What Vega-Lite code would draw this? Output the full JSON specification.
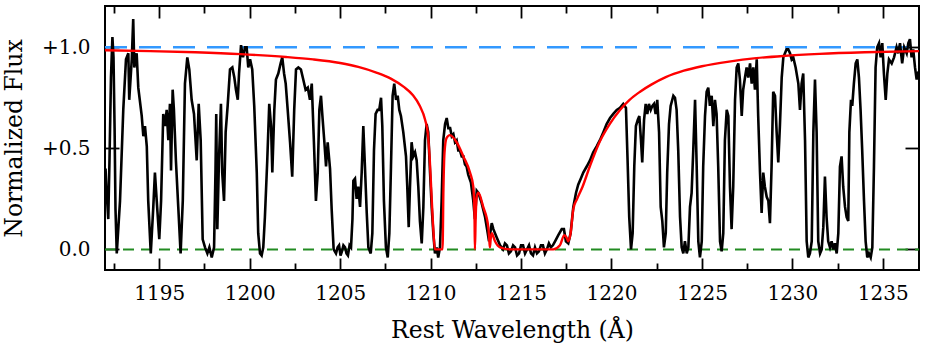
{
  "$schema": "https://vega.github.io/schema/vega-lite/v6.json",
  "width": 814,
  "height": 264,
  "autosize": {"type": "none"},
  "padding": {"left": 105, "top": 6, "right": 7, "bottom": 83},
  "background": "white",
  "config": {
    "view": {"stroke": "black", "strokeWidth": 2},
    "font": "DejaVu Serif",
    "axis": {
      "grid": false, "domain": false,
      "labelFont": "DejaVu Serif", "titleFont": "DejaVu Serif",
      "labelColor": "black", "titleColor": "black", "tickColor": "black",
      "tickWidth": 1.8, "labelFontSize": 20, "titleFontSize": 23.5,
      "titleFontWeight": "normal", "zindex": 1
    }
  },
  "datasets": {
    "continuum": [{"level": 1}],
    "zero": [{"level": 0}],
    "spectrum": [
      {"wl": 1192.03, "flux": 0.40}, {"wl": 1192.08, "flux": 0.30}, {"wl": 1192.18, "flux": 0.15}, {"wl": 1192.25, "flux": 0.45},
      {"wl": 1192.33, "flux": 0.85}, {"wl": 1192.41, "flux": 1.05}, {"wl": 1192.47, "flux": 0.95}, {"wl": 1192.53, "flux": 0.60},
      {"wl": 1192.58, "flux": 0.20}, {"wl": 1192.65, "flux": -0.02}, {"wl": 1192.83, "flux": 0.24}, {"wl": 1193.01, "flux": 0.69},
      {"wl": 1193.16, "flux": 0.94}, {"wl": 1193.29, "flux": 0.97}, {"wl": 1193.34, "flux": 0.74}, {"wl": 1193.48, "flux": 0.94},
      {"wl": 1193.56, "flux": 1.14}, {"wl": 1193.62, "flux": 0.90}, {"wl": 1193.75, "flux": 0.97}, {"wl": 1193.84, "flux": 0.80},
      {"wl": 1194.03, "flux": 0.66}, {"wl": 1194.12, "flux": 0.56}, {"wl": 1194.21, "flux": 0.61}, {"wl": 1194.31, "flux": 0.51},
      {"wl": 1194.39, "flux": 0.24}, {"wl": 1194.53, "flux": -0.02}, {"wl": 1194.67, "flux": 0.21}, {"wl": 1194.76, "flux": 0.38},
      {"wl": 1194.86, "flux": 0.24}, {"wl": 1195.00, "flux": 0.05}, {"wl": 1195.10, "flux": 0.24}, {"wl": 1195.22, "flux": 0.67},
      {"wl": 1195.32, "flux": 0.61}, {"wl": 1195.41, "flux": 0.69}, {"wl": 1195.50, "flux": 0.54}, {"wl": 1195.59, "flux": 0.72},
      {"wl": 1195.65, "flux": 0.39}, {"wl": 1195.74, "flux": 0.79}, {"wl": 1195.81, "flux": 0.69}, {"wl": 1195.92, "flux": 0.44},
      {"wl": 1196.05, "flux": 0.21}, {"wl": 1196.18, "flux": -0.02}, {"wl": 1196.30, "flux": 0.24}, {"wl": 1196.42, "flux": 0.82},
      {"wl": 1196.55, "flux": 0.95}, {"wl": 1196.66, "flux": 0.89}, {"wl": 1196.79, "flux": 0.74}, {"wl": 1196.92, "flux": 0.67},
      {"wl": 1197.07, "flux": 0.44}, {"wl": 1197.18, "flux": 0.72}, {"wl": 1197.29, "flux": 0.54}, {"wl": 1197.40, "flux": 0.05},
      {"wl": 1197.53, "flux": 0.01}, {"wl": 1197.66, "flux": -0.02}, {"wl": 1197.77, "flux": 0.01}, {"wl": 1197.90, "flux": -0.04},
      {"wl": 1198.03, "flux": 0.01}, {"wl": 1198.11, "flux": 0.40}, {"wl": 1198.15, "flux": 0.67}, {"wl": 1198.21, "flux": 0.10},
      {"wl": 1198.30, "flux": 0.44}, {"wl": 1198.41, "flux": 0.72}, {"wl": 1198.48, "flux": 0.38}, {"wl": 1198.58, "flux": 0.24},
      {"wl": 1198.67, "flux": 0.58}, {"wl": 1198.78, "flux": 0.71}, {"wl": 1198.91, "flux": 0.89}, {"wl": 1199.04, "flux": 0.90},
      {"wl": 1199.15, "flux": 0.85}, {"wl": 1199.24, "flux": 0.79}, {"wl": 1199.34, "flux": 0.74}, {"wl": 1199.41, "flux": 0.87},
      {"wl": 1199.52, "flux": 1.01}, {"wl": 1199.63, "flux": 0.95}, {"wl": 1199.74, "flux": 1.00}, {"wl": 1199.83, "flux": 1.00},
      {"wl": 1199.92, "flux": 0.90}, {"wl": 1200.02, "flux": 0.94}, {"wl": 1200.14, "flux": 0.89}, {"wl": 1200.25, "flux": 0.71},
      {"wl": 1200.39, "flux": 0.38}, {"wl": 1200.47, "flux": 0.08}, {"wl": 1200.57, "flux": -0.02}, {"wl": 1200.66, "flux": -0.03},
      {"wl": 1200.75, "flux": 0.01}, {"wl": 1200.84, "flux": 0.16}, {"wl": 1200.97, "flux": 0.44}, {"wl": 1201.08, "flux": 0.72},
      {"wl": 1201.18, "flux": 0.61}, {"wl": 1201.25, "flux": 0.38}, {"wl": 1201.36, "flux": 0.69}, {"wl": 1201.45, "flux": 0.84},
      {"wl": 1201.58, "flux": 0.87}, {"wl": 1201.71, "flux": 0.92}, {"wl": 1201.80, "flux": 0.95}, {"wl": 1201.90, "flux": 0.87},
      {"wl": 1201.99, "flux": 0.82}, {"wl": 1202.10, "flux": 0.69}, {"wl": 1202.23, "flux": 0.53}, {"wl": 1202.35, "flux": 0.36},
      {"wl": 1202.46, "flux": 0.69}, {"wl": 1202.56, "flux": 0.89}, {"wl": 1202.69, "flux": 0.90}, {"wl": 1202.83, "flux": 0.89},
      {"wl": 1202.96, "flux": 0.84}, {"wl": 1203.09, "flux": 0.79}, {"wl": 1203.21, "flux": 0.80}, {"wl": 1203.33, "flux": 0.74},
      {"wl": 1203.43, "flux": 0.82}, {"wl": 1203.55, "flux": 0.53}, {"wl": 1203.66, "flux": 0.24}, {"wl": 1203.76, "flux": 0.38},
      {"wl": 1203.85, "flux": 0.69}, {"wl": 1203.94, "flux": 0.76}, {"wl": 1204.01, "flux": 0.67}, {"wl": 1204.12, "flux": 0.54},
      {"wl": 1204.22, "flux": 0.41}, {"wl": 1204.31, "flux": 0.53}, {"wl": 1204.44, "flux": 0.40}, {"wl": 1204.53, "flux": 0.20},
      {"wl": 1204.64, "flux": 0.00}, {"wl": 1204.77, "flux": -0.02}, {"wl": 1204.86, "flux": 0.01}, {"wl": 1204.94, "flux": 0.02},
      {"wl": 1205.02, "flux": -0.03}, {"wl": 1205.10, "flux": -0.01}, {"wl": 1205.18, "flux": 0.02}, {"wl": 1205.27, "flux": 0.01},
      {"wl": 1205.35, "flux": -0.02}, {"wl": 1205.43, "flux": -0.03}, {"wl": 1205.52, "flux": 0.02}, {"wl": 1205.60, "flux": 0.01},
      {"wl": 1205.68, "flux": 0.15},
      {"wl": 1205.73, "flux": 0.34}, {"wl": 1205.82, "flux": 0.35}, {"wl": 1205.91, "flux": 0.25}, {"wl": 1206.00, "flux": 0.31},
      {"wl": 1206.10, "flux": 0.21}, {"wl": 1206.19, "flux": 0.38}, {"wl": 1206.28, "flux": 0.61}, {"wl": 1206.37, "flux": 0.41},
      {"wl": 1206.47, "flux": 0.18}, {"wl": 1206.56, "flux": 0.01}, {"wl": 1206.69, "flux": -0.02}, {"wl": 1206.78, "flux": 0.08},
      {"wl": 1206.87, "flux": 0.49}, {"wl": 1206.96, "flux": 0.67}, {"wl": 1207.07, "flux": 0.69}, {"wl": 1207.16, "flux": 0.69},
      {"wl": 1207.26, "flux": 0.75}, {"wl": 1207.33, "flux": 0.61}, {"wl": 1207.42, "flux": 0.24}, {"wl": 1207.53, "flux": 0.01},
      {"wl": 1207.63, "flux": -0.04}, {"wl": 1207.72, "flux": 0.08}, {"wl": 1207.81, "flux": 0.41}, {"wl": 1207.90, "flux": 0.76},
      {"wl": 1207.99, "flux": 0.82}, {"wl": 1208.09, "flux": 0.74}, {"wl": 1208.18, "flux": 0.76}, {"wl": 1208.27, "flux": 0.69},
      {"wl": 1208.36, "flux": 0.66}, {"wl": 1208.49, "flux": 0.58}, {"wl": 1208.64, "flux": 0.46}, {"wl": 1208.71, "flux": 0.31},
      {"wl": 1208.79, "flux": 0.11}, {"wl": 1208.86, "flux": 0.31}, {"wl": 1208.95, "flux": 0.53}, {"wl": 1209.04, "flux": 0.46},
      {"wl": 1209.14, "flux": 0.48}, {"wl": 1209.23, "flux": 0.44}, {"wl": 1209.32, "flux": 0.31}, {"wl": 1209.41, "flux": 0.14},
      {"wl": 1209.51, "flux": 0.03}, {"wl": 1209.60, "flux": 0.21}, {"wl": 1209.69, "flux": 0.54}, {"wl": 1209.78, "flux": 0.62},
      {"wl": 1209.87, "flux": 0.58}, {"wl": 1209.97, "flux": 0.38}, {"wl": 1210.06, "flux": 0.21}, {"wl": 1210.15, "flux": 0.08},
      {"wl": 1210.24, "flux": -0.02}, {"wl": 1210.34, "flux": 0.01}, {"wl": 1210.42, "flux": -0.04}, {"wl": 1210.52, "flux": 0.01},
      {"wl": 1210.61, "flux": 0.24}, {"wl": 1210.70, "flux": 0.54}, {"wl": 1210.80, "flux": 0.62}, {"wl": 1210.89, "flux": 0.65},
      {"wl": 1210.98, "flux": 0.60}, {"wl": 1211.08, "flux": 0.60}, {"wl": 1211.17, "flux": 0.56}, {"wl": 1211.26, "flux": 0.57},
      {"wl": 1211.35, "flux": 0.53}, {"wl": 1211.44, "flux": 0.54}, {"wl": 1211.53, "flux": 0.49}, {"wl": 1211.62, "flux": 0.49},
      {"wl": 1211.72, "flux": 0.46}, {"wl": 1211.81, "flux": 0.46}, {"wl": 1211.90, "flux": 0.42}, {"wl": 1211.99, "flux": 0.41},
      {"wl": 1212.08, "flux": 0.37}, {"wl": 1212.23, "flux": 0.33}, {"wl": 1212.36, "flux": 0.24}, {"wl": 1212.45, "flux": 0.15},
      {"wl": 1212.55, "flux": 0.29}, {"wl": 1212.64, "flux": 0.28}, {"wl": 1212.82, "flux": 0.23}, {"wl": 1213.01, "flux": 0.16},
      {"wl": 1213.16, "flux": 0.08}, {"wl": 1213.23, "flux": 0.04}, {"wl": 1213.38, "flux": 0.13}, {"wl": 1213.47, "flux": 0.10},
      {"wl": 1213.65, "flux": 0.06}, {"wl": 1213.84, "flux": 0.02}, {"wl": 1214.00, "flux": 0.00}, {"wl": 1214.11, "flux": 0.03},
      {"wl": 1214.22, "flux": 0.02}, {"wl": 1214.33, "flux": -0.02}, {"wl": 1214.44, "flux": -0.01}, {"wl": 1214.56, "flux": 0.02},
      {"wl": 1214.67, "flux": 0.01}, {"wl": 1214.78, "flux": -0.03}, {"wl": 1214.89, "flux": -0.02}, {"wl": 1215.00, "flux": 0.02},
      {"wl": 1215.11, "flux": 0.02}, {"wl": 1215.22, "flux": -0.02}, {"wl": 1215.33, "flux": 0.00}, {"wl": 1215.44, "flux": 0.02},
      {"wl": 1215.55, "flux": -0.02}, {"wl": 1215.66, "flux": -0.03}, {"wl": 1215.77, "flux": 0.01}, {"wl": 1215.88, "flux": -0.02},
      {"wl": 1215.99, "flux": -0.01}, {"wl": 1216.10, "flux": 0.02}, {"wl": 1216.21, "flux": 0.02}, {"wl": 1216.32, "flux": -0.02},
      {"wl": 1216.43, "flux": 0.00}, {"wl": 1216.54, "flux": 0.03}, {"wl": 1216.65, "flux": 0.01}, {"wl": 1216.76, "flux": 0.02},
      {"wl": 1216.88, "flux": 0.04}, {"wl": 1217.06, "flux": 0.07}, {"wl": 1217.25, "flux": 0.10}, {"wl": 1217.37, "flux": 0.10},
      {"wl": 1217.48, "flux": 0.04}, {"wl": 1217.61, "flux": 0.03}, {"wl": 1217.74, "flux": 0.08}, {"wl": 1217.89, "flux": 0.21},
      {"wl": 1218.04, "flux": 0.28}, {"wl": 1218.16, "flux": 0.32}, {"wl": 1218.30, "flux": 0.35}, {"wl": 1218.44, "flux": 0.38},
      {"wl": 1218.63, "flux": 0.41}, {"wl": 1218.81, "flux": 0.44}, {"wl": 1218.99, "flux": 0.48}, {"wl": 1219.18, "flux": 0.51},
      {"wl": 1219.36, "flux": 0.54}, {"wl": 1219.55, "flux": 0.58}, {"wl": 1219.73, "flux": 0.62}, {"wl": 1219.92, "flux": 0.65},
      {"wl": 1220.10, "flux": 0.67}, {"wl": 1220.29, "flux": 0.69}, {"wl": 1220.47, "flux": 0.70}, {"wl": 1220.65, "flux": 0.72},
      {"wl": 1220.80, "flux": 0.70}, {"wl": 1220.89, "flux": 0.44}, {"wl": 1220.98, "flux": 0.16}, {"wl": 1221.08, "flux": 0.00},
      {"wl": 1221.17, "flux": 0.08}, {"wl": 1221.26, "flux": 0.41}, {"wl": 1221.35, "flux": 0.61}, {"wl": 1221.45, "flux": 0.64},
      {"wl": 1221.54, "flux": 0.66}, {"wl": 1221.63, "flux": 0.54}, {"wl": 1221.70, "flux": 0.43}, {"wl": 1221.80, "flux": 0.64},
      {"wl": 1221.89, "flux": 0.72}, {"wl": 1221.98, "flux": 0.67}, {"wl": 1222.07, "flux": 0.72}, {"wl": 1222.17, "flux": 0.69},
      {"wl": 1222.26, "flux": 0.71}, {"wl": 1222.35, "flux": 0.72}, {"wl": 1222.44, "flux": 0.67}, {"wl": 1222.53, "flux": 0.74},
      {"wl": 1222.63, "flux": 0.58}, {"wl": 1222.72, "flux": 0.21}, {"wl": 1222.81, "flux": 0.14}, {"wl": 1222.90, "flux": 0.01},
      {"wl": 1223.00, "flux": 0.08}, {"wl": 1223.08, "flux": 0.38}, {"wl": 1223.18, "flux": 0.62}, {"wl": 1223.27, "flux": 0.71},
      {"wl": 1223.42, "flux": 0.76}, {"wl": 1223.51, "flux": 0.75}, {"wl": 1223.60, "flux": 0.69}, {"wl": 1223.69, "flux": 0.49},
      {"wl": 1223.79, "flux": 0.16}, {"wl": 1223.88, "flux": 0.01}, {"wl": 1223.97, "flux": -0.02}, {"wl": 1224.06, "flux": 0.04},
      {"wl": 1224.16, "flux": -0.02}, {"wl": 1224.25, "flux": 0.01}, {"wl": 1224.34, "flux": 0.21}, {"wl": 1224.43, "flux": 0.28},
      {"wl": 1224.52, "flux": 0.49}, {"wl": 1224.62, "flux": 0.74}, {"wl": 1224.71, "flux": 0.41}, {"wl": 1224.80, "flux": 0.04},
      {"wl": 1224.89, "flux": -0.04}, {"wl": 1224.99, "flux": 0.04}, {"wl": 1225.07, "flux": 0.41}, {"wl": 1225.17, "flux": 0.66},
      {"wl": 1225.26, "flux": 0.78}, {"wl": 1225.35, "flux": 0.80}, {"wl": 1225.44, "flux": 0.71}, {"wl": 1225.54, "flux": 0.76},
      {"wl": 1225.63, "flux": 0.61}, {"wl": 1225.72, "flux": 0.74}, {"wl": 1225.81, "flux": 0.67}, {"wl": 1225.90, "flux": 0.41},
      {"wl": 1226.00, "flux": 0.04}, {"wl": 1226.09, "flux": -0.01}, {"wl": 1226.18, "flux": 0.08}, {"wl": 1226.27, "flux": 0.54},
      {"wl": 1226.37, "flux": 0.69}, {"wl": 1226.46, "flux": 0.66}, {"wl": 1226.55, "flux": 0.31}, {"wl": 1226.64, "flux": 0.10},
      {"wl": 1226.73, "flux": 0.31}, {"wl": 1226.83, "flux": 0.74}, {"wl": 1226.92, "flux": 0.90}, {"wl": 1227.01, "flux": 0.92},
      {"wl": 1227.10, "flux": 0.84}, {"wl": 1227.20, "flux": 0.66}, {"wl": 1227.28, "flux": 0.79}, {"wl": 1227.38, "flux": 0.85},
      {"wl": 1227.47, "flux": 0.90}, {"wl": 1227.56, "flux": 0.85}, {"wl": 1227.66, "flux": 0.92}, {"wl": 1227.75, "flux": 0.82},
      {"wl": 1227.84, "flux": 0.90}, {"wl": 1227.93, "flux": 0.79}, {"wl": 1228.03, "flux": 0.94}, {"wl": 1228.11, "flux": 0.66},
      {"wl": 1228.21, "flux": 0.38}, {"wl": 1228.30, "flux": 0.18}, {"wl": 1228.39, "flux": 0.38}, {"wl": 1228.48, "flux": 0.31},
      {"wl": 1228.58, "flux": 0.26}, {"wl": 1228.67, "flux": 0.24}, {"wl": 1228.76, "flux": 0.13}, {"wl": 1228.85, "flux": 0.41},
      {"wl": 1228.94, "flux": 0.78}, {"wl": 1229.04, "flux": 0.76}, {"wl": 1229.13, "flux": 0.58}, {"wl": 1229.22, "flux": 0.43},
      {"wl": 1229.31, "flux": 0.61}, {"wl": 1229.41, "flux": 0.85}, {"wl": 1229.50, "flux": 0.95}, {"wl": 1229.59, "flux": 0.97},
      {"wl": 1229.68, "flux": 0.99}, {"wl": 1229.77, "flux": 0.99}, {"wl": 1229.87, "flux": 0.97}, {"wl": 1229.96, "flux": 0.94},
      {"wl": 1230.05, "flux": 0.95}, {"wl": 1230.18, "flux": 0.90}, {"wl": 1230.33, "flux": 0.82}, {"wl": 1230.42, "flux": 0.69},
      {"wl": 1230.51, "flux": 0.82}, {"wl": 1230.60, "flux": 0.87}, {"wl": 1230.70, "flux": 0.54}, {"wl": 1230.79, "flux": 0.04},
      {"wl": 1230.88, "flux": -0.04}, {"wl": 1230.97, "flux": -0.02}, {"wl": 1231.07, "flux": 0.04}, {"wl": 1231.16, "flux": 0.58},
      {"wl": 1231.25, "flux": 0.84}, {"wl": 1231.34, "flux": 0.58}, {"wl": 1231.43, "flux": 0.04}, {"wl": 1231.53, "flux": -0.02},
      {"wl": 1231.62, "flux": 0.00}, {"wl": 1231.71, "flux": 0.11}, {"wl": 1231.80, "flux": 0.36}, {"wl": 1231.89, "flux": 0.16},
      {"wl": 1231.98, "flux": 0.04}, {"wl": 1232.08, "flux": 0.01}, {"wl": 1232.17, "flux": 0.04}, {"wl": 1232.26, "flux": 0.00},
      {"wl": 1232.35, "flux": 0.03}, {"wl": 1232.45, "flux": -0.02}, {"wl": 1232.54, "flux": 0.08}, {"wl": 1232.63, "flux": 0.41},
      {"wl": 1232.72, "flux": 0.46}, {"wl": 1232.81, "flux": 0.31}, {"wl": 1232.91, "flux": 0.21}, {"wl": 1233.00, "flux": 0.16},
      {"wl": 1233.09, "flux": 0.14}, {"wl": 1233.15, "flux": 0.58}, {"wl": 1233.24, "flux": 0.74}, {"wl": 1233.31, "flux": 0.71},
      {"wl": 1233.40, "flux": 0.82}, {"wl": 1233.50, "flux": 0.92}, {"wl": 1233.59, "flux": 0.94}, {"wl": 1233.68, "flux": 0.85},
      {"wl": 1233.77, "flux": 0.69}, {"wl": 1233.86, "flux": 0.49}, {"wl": 1233.96, "flux": 0.24}, {"wl": 1234.05, "flux": 0.04},
      {"wl": 1234.14, "flux": -0.04}, {"wl": 1234.23, "flux": -0.02}, {"wl": 1234.33, "flux": -0.04}, {"wl": 1234.42, "flux": 0.01},
      {"wl": 1234.51, "flux": 0.41}, {"wl": 1234.60, "flux": 0.90}, {"wl": 1234.69, "flux": 1.00}, {"wl": 1234.79, "flux": 1.02},
      {"wl": 1234.88, "flux": 0.95}, {"wl": 1234.97, "flux": 1.02}, {"wl": 1235.06, "flux": 0.87}, {"wl": 1235.16, "flux": 0.74},
      {"wl": 1235.25, "flux": 0.87}, {"wl": 1235.34, "flux": 0.94}, {"wl": 1235.49, "flux": 0.92}, {"wl": 1235.62, "flux": 0.95},
      {"wl": 1235.76, "flux": 1.00}, {"wl": 1235.85, "flux": 0.97}, {"wl": 1235.95, "flux": 1.02}, {"wl": 1236.07, "flux": 0.92},
      {"wl": 1236.18, "flux": 1.00}, {"wl": 1236.32, "flux": 0.97}, {"wl": 1236.41, "flux": 1.02}, {"wl": 1236.50, "flux": 1.04},
      {"wl": 1236.59, "flux": 0.95}, {"wl": 1236.68, "flux": 0.99}, {"wl": 1236.78, "flux": 0.90}, {"wl": 1236.87, "flux": 0.84},
      {"wl": 1236.97, "flux": 0.88}
    ],
    "fit": [
      {"wl": 1192.0, "flux": 0.985}, {"wl": 1194.5, "flux": 0.981}, {"wl": 1197.0, "flux": 0.975}, {"wl": 1199.5, "flux": 0.966},
      {"wl": 1202.0, "flux": 0.952}, {"wl": 1203.5, "flux": 0.94}, {"wl": 1205.0, "flux": 0.922}, {"wl": 1206.0, "flux": 0.903},
      {"wl": 1207.0, "flux": 0.875}, {"wl": 1207.8, "flux": 0.845}, {"wl": 1208.5, "flux": 0.805}, {"wl": 1209.0, "flux": 0.765},
      {"wl": 1209.4, "flux": 0.71}, {"wl": 1209.7, "flux": 0.64}, {"wl": 1209.85, "flux": 0.57}, {"wl": 1209.95, "flux": 0.45},
      {"wl": 1210.05, "flux": 0.27}, {"wl": 1210.15, "flux": 0.10}, {"wl": 1210.24, "flux": 0.0}, {"wl": 1210.66, "flux": 0.0},
      {"wl": 1210.71, "flux": 0.30}, {"wl": 1210.77, "flux": 0.48}, {"wl": 1210.88, "flux": 0.55}, {"wl": 1211.07, "flux": 0.565},
      {"wl": 1211.44, "flux": 0.53}, {"wl": 1211.81, "flux": 0.46}, {"wl": 1212.18, "flux": 0.38}, {"wl": 1212.36, "flux": 0.31},
      {"wl": 1212.43, "flux": 0.15}, {"wl": 1212.45, "flux": 0.0}, {"wl": 1212.49, "flux": 0.15}, {"wl": 1212.55, "flux": 0.26},
      {"wl": 1212.64, "flux": 0.28}, {"wl": 1212.91, "flux": 0.21}, {"wl": 1213.19, "flux": 0.11}, {"wl": 1213.25, "flux": 0.04},
      {"wl": 1213.28, "flux": 0.01}, {"wl": 1213.32, "flux": 0.05}, {"wl": 1213.38, "flux": 0.08}, {"wl": 1213.56, "flux": 0.04},
      {"wl": 1213.84, "flux": 0.01}, {"wl": 1214.39, "flux": 0.0}, {"wl": 1216.78, "flux": 0.0}, {"wl": 1217.15, "flux": 0.02},
      {"wl": 1217.39, "flux": 0.07}, {"wl": 1217.51, "flux": 0.06}, {"wl": 1217.61, "flux": 0.04}, {"wl": 1217.74, "flux": 0.08},
      {"wl": 1217.89, "flux": 0.20}, {"wl": 1218.1, "flux": 0.25}, {"wl": 1218.4, "flux": 0.31}, {"wl": 1218.8, "flux": 0.41},
      {"wl": 1219.36, "flux": 0.535}, {"wl": 1219.9, "flux": 0.62}, {"wl": 1220.47, "flux": 0.69}, {"wl": 1221.0, "flux": 0.74},
      {"wl": 1221.58, "flux": 0.78}, {"wl": 1222.2, "flux": 0.815}, {"wl": 1223.0, "flux": 0.852}, {"wl": 1224.0, "flux": 0.884},
      {"wl": 1225.0, "flux": 0.906}, {"wl": 1226.5, "flux": 0.929}, {"wl": 1228.0, "flux": 0.946}, {"wl": 1229.5, "flux": 0.957},
      {"wl": 1231.5, "flux": 0.967}, {"wl": 1234.0, "flux": 0.975}, {"wl": 1237.0, "flux": 0.981}
    ]
  },
  "resolve": {"axis": {"x": "independent", "y": "independent"}},
  "layer": [
    {
      "data": {"name": "continuum"},
      "mark": {"type": "rule", "color": "#3399ff", "strokeWidth": 2.7, "strokeDash": [22, 12]},
      "encoding": {
        "x": {"datum": 1192, "type": "quantitative", "scale": {"domain": [1192, 1237], "nice": false, "zero": false},
              "axis": {"orient": "bottom", "values": [1192.5, 1197.5, 1202.5, 1207.5, 1212.5, 1217.5, 1222.5, 1227.5, 1232.5], "tickSize": -7, "labels": false, "title": null}},
        "x2": {"datum": 1237},
        "y": {"field": "level", "type": "quantitative", "scale": {"domain": [-0.102, 1.204], "nice": false, "zero": false},
              "axis": {"orient": "left", "values": [0, 0.5, 1], "tickSize": -14, "labelPadding": 29,
                       "labelExpr": "datum.value > 0 ? '+' + format(datum.value, '.1f') : format(datum.value, '.1f')",
                       "title": "Normalized Flux", "titlePadding": 15}}
      }
    },
    {
      "data": {"name": "zero"},
      "mark": {"type": "rule", "color": "#228b22", "strokeWidth": 2, "strokeDash": [11, 7]},
      "encoding": {
        "x": {"datum": 1192, "type": "quantitative", "scale": {"domain": [1192, 1237], "nice": false, "zero": false},
              "axis": {"orient": "top", "values": [1192.5, 1197.5, 1202.5, 1207.5, 1212.5, 1217.5, 1222.5, 1227.5, 1232.5], "tickSize": -7, "labels": false, "title": null}},
        "x2": {"datum": 1237},
        "y": {"field": "level", "type": "quantitative", "scale": {"domain": [-0.102, 1.204], "nice": false, "zero": false},
              "axis": {"orient": "right", "values": [0, 0.5, 1], "tickSize": -14, "labels": false, "title": null}}
      }
    },
    {
      "data": {"name": "spectrum"},
      "mark": {"type": "line", "color": "black", "strokeWidth": 2.6, "clip": true},
      "encoding": {
        "x": {"field": "wl", "type": "quantitative", "scale": {"domain": [1192, 1237], "nice": false, "zero": false},
              "axis": {"orient": "bottom", "values": [1195, 1200, 1205, 1210, 1215, 1220, 1225, 1230, 1235], "tickSize": -12, "labelPadding": 25,
                       "format": "d", "title": "Rest Wavelength (Å)", "titlePadding": 15}},
        "y": {"field": "flux", "type": "quantitative", "scale": {"domain": [-0.102, 1.204], "nice": false, "zero": false}, "axis": null}
      }
    },
    {
      "data": {"name": "fit"},
      "mark": {"type": "line", "color": "red", "strokeWidth": 2.4, "clip": true, "interpolate": "monotone"},
      "encoding": {
        "x": {"field": "wl", "type": "quantitative", "scale": {"domain": [1192, 1237], "nice": false, "zero": false},
              "axis": {"orient": "top", "values": [1195, 1200, 1205, 1210, 1215, 1220, 1225, 1230, 1235], "tickSize": -12, "labels": false, "title": null}},
        "y": {"field": "flux", "type": "quantitative", "scale": {"domain": [-0.102, 1.204], "nice": false, "zero": false}, "axis": null}
      }
    }
  ]
}
